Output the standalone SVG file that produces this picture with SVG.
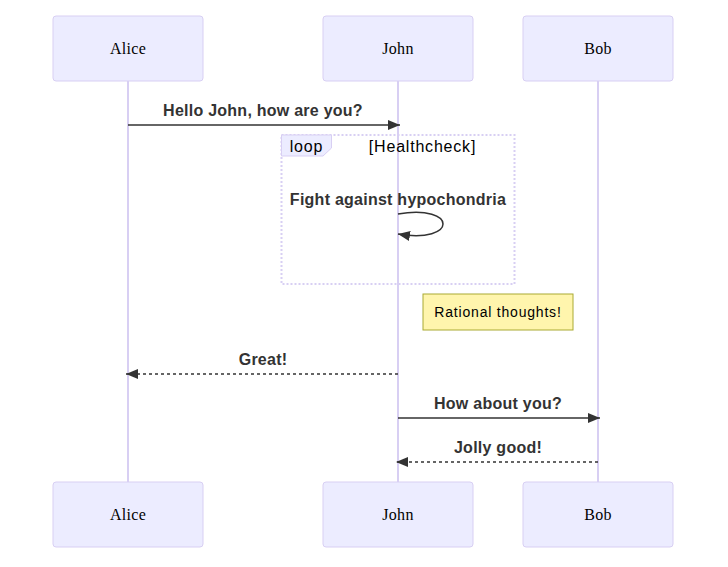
<svg xmlns="http://www.w3.org/2000/svg" width="728" height="567" viewBox="0 0 728 567">
  <style>
    .actor { fill: #ececff; stroke: #d8cff3; stroke-width: 1; }
    .actor-text { font-family: "Liberation Serif", serif; font-size: 16px; fill: #000; text-anchor: middle; dominant-baseline: central; letter-spacing: 0.3px; }
    .lifeline { stroke: #d8cff3; stroke-width: 2; }
    .msg { stroke: #333; stroke-width: 1.5; fill: none; }
    .dotted { stroke-dasharray: 3,3; }
    .msg-text { font-family: "Liberation Sans", Arial, sans-serif; font-size: 16px; font-weight: bold; fill: #333; text-anchor: middle; letter-spacing: 0.25px; }
    .loop-box { fill: none; stroke: #d8cff3; stroke-width: 2; stroke-dasharray: 2,2; }
    .loop-label { fill: #ececff; stroke: #d8cff3; stroke-width: 1; }
    .loop-text { font-family: "Liberation Sans", Arial, sans-serif; font-size: 16px; fill: #000; text-anchor: middle; dominant-baseline: central; letter-spacing: 0.8px; }
    .note { fill: #fff5ad; stroke: #aaaa33; stroke-width: 1; }
    .note-text { font-family: "Liberation Sans", Arial, sans-serif; font-size: 14px; fill: #000; text-anchor: middle; dominant-baseline: central; letter-spacing: 0.8px; }
  </style>
  <defs>
    <marker id="arrowhead" viewBox="0 0 12 12" refX="12" refY="5" markerUnits="userSpaceOnUse" markerWidth="12" markerHeight="12" orient="auto">
      <path d="M 0 0 L 12 5 L 0 10 z" fill="#333"/>
    </marker>
  </defs>
  <rect width="728" height="567" fill="#fff"/>

  <!-- lifelines -->
  <g id="lifelines">
    <line class="lifeline" x1="128" y1="80" x2="128" y2="482"/>
    <line class="lifeline" x1="398" y1="80" x2="398" y2="482"/>
    <line class="lifeline" x1="598" y1="80" x2="598" y2="482"/>
  </g>

  <!-- participants, top -->
  <g id="actor-alice-top">
    <rect class="actor" x="53" y="16" width="150" height="65" rx="3"/>
    <text class="actor-text" x="128" y="48.5">Alice</text>
  </g>
  <g id="actor-john-top">
    <rect class="actor" x="323" y="16" width="150" height="65" rx="3"/>
    <text class="actor-text" x="398" y="48.5">John</text>
  </g>
  <g id="actor-bob-top">
    <rect class="actor" x="523" y="16" width="150" height="65" rx="3"/>
    <text class="actor-text" x="598" y="48.5">Bob</text>
  </g>

  <!-- loop frame -->
  <g id="loop-healthcheck">
    <rect class="loop-box" x="281.5" y="135" width="233" height="149"/>
    <polygon class="loop-label" points="281.5,135 331.5,135 331.5,148 323,156 281.5,156"/>
    <text class="loop-text" x="306.5" y="146.5">loop</text>
    <text class="loop-text" x="422.5" y="146.5">[Healthcheck]</text>
  </g>

  <!-- note -->
  <g id="note-rational">
    <rect class="note" x="423" y="294" width="150" height="36"/>
    <text class="note-text" x="498" y="312">Rational thoughts!</text>
  </g>

  <!-- messages -->
  <g id="messages">
    <text class="msg-text" x="263" y="116">Hello John, how are you?</text>
    <line class="msg" x1="128" y1="125" x2="400" y2="125" marker-end="url(#arrowhead)"/>

    <text class="msg-text" x="398" y="205">Fight against hypochondria</text>
    <path class="msg" d="M 398,214 C 458,204 458,244 398,234" marker-end="url(#arrowhead)"/>

    <text class="msg-text" x="263" y="365">Great!</text>
    <line class="msg dotted" x1="398" y1="374" x2="126" y2="374" marker-end="url(#arrowhead)"/>

    <text class="msg-text" x="498" y="409">How about you?</text>
    <line class="msg" x1="398" y1="418" x2="600" y2="418" marker-end="url(#arrowhead)"/>

    <text class="msg-text" x="498" y="453">Jolly good!</text>
    <line class="msg dotted" x1="598" y1="462" x2="396" y2="462" marker-end="url(#arrowhead)"/>
  </g>

  <!-- participants, bottom -->
  <g id="actor-alice-bottom">
    <rect class="actor" x="53" y="482" width="150" height="65" rx="3"/>
    <text class="actor-text" x="128" y="514.5">Alice</text>
  </g>
  <g id="actor-john-bottom">
    <rect class="actor" x="323" y="482" width="150" height="65" rx="3"/>
    <text class="actor-text" x="398" y="514.5">John</text>
  </g>
  <g id="actor-bob-bottom">
    <rect class="actor" x="523" y="482" width="150" height="65" rx="3"/>
    <text class="actor-text" x="598" y="514.5">Bob</text>
  </g>
</svg>
